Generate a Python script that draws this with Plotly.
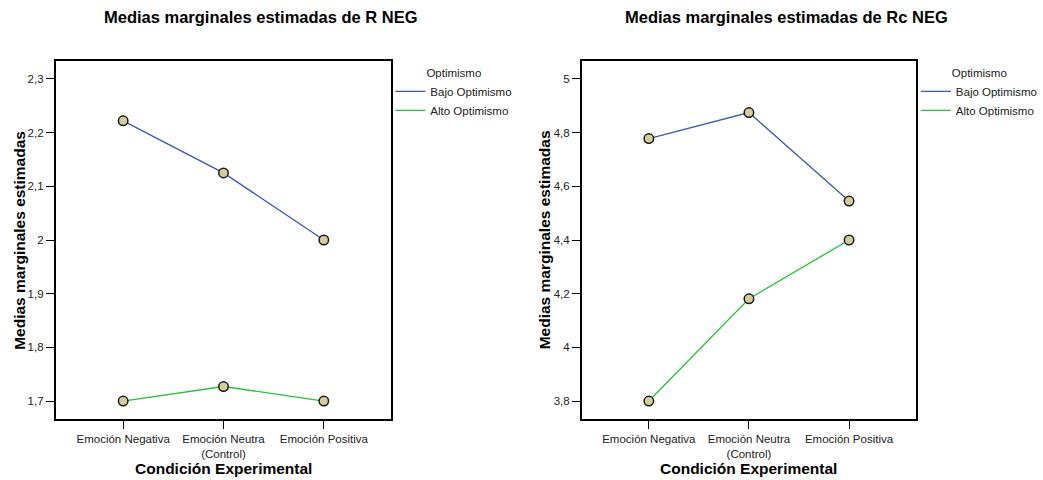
import plotly.graph_objects as go

W, H = 1043, 480

categories = ["Emoción Negativa", "Emoción Neutra<br>(Control)", "Emoción Positiva"]
series_names = ["Bajo Optimismo", "Alto Optimismo"]

r_neg_bajo = [2.222, 2.125, 2.000]
r_neg_alto = [1.700, 1.727, 1.700]

rc_neg_bajo = [4.778, 4.875, 4.545]
rc_neg_alto = [3.800, 4.181, 4.400]

left_ticks = [1.7, 1.8, 1.9, 2.0, 2.1, 2.2, 2.3]
left_ticktext = ["1,7", "1,8", "1,9", "2", "2,1", "2,2", "2,3"]
right_ticks = [3.8, 4.0, 4.2, 4.4, 4.6, 4.8, 5.0]
right_ticktext = ["3,8", "4", "4,2", "4,4", "4,6", "4,8", "5"]

titles = ["Medias marginales estimadas de R NEG", "Medias marginales estimadas de Rc NEG"]
y_title = "Medias marginales estimadas"
x_title = "Condición Experimental"
legend_title = "Optimismo"

colors = ["#3b58b4", "#27c238"]
marker_fill = "#d5cc9c"
FONT = "Liberation Sans, Arial, sans-serif"

def px(x):
    return x / W

def py(y):
    return 1 - y / H

fig = go.Figure()

panels = [
    dict(xa="x", ya="y", leg="legend", vals=[r_neg_bajo, r_neg_alto]),
    dict(xa="x2", ya="y2", leg="legend2", vals=[rc_neg_bajo, rc_neg_alto]),
]

for p in panels:
    for name, vals, col in zip(series_names, p["vals"], colors):
        fig.add_trace(go.Scatter(
            x=categories, y=vals, mode="lines", name=name,
            line=dict(color=col, width=1.3),
            xaxis=p["xa"], yaxis=p["ya"], legend=p["leg"],
        ))
    for name, vals, col in zip(series_names, p["vals"], colors):
        fig.add_trace(go.Scatter(
            x=categories, y=vals, mode="markers", name=name, showlegend=False,
            marker=dict(size=9.5, color=marker_fill, line=dict(color="#1a1a1a", width=1.5)),
            xaxis=p["xa"], yaxis=p["ya"],
        ))

axis_common = dict(
    showline=True, linecolor="black", linewidth=1.5, mirror=True,
    ticks="outside", ticklen=8, tickwidth=1.2, tickcolor="black",
    showgrid=False, zeroline=False,
    tickfont=dict(family=FONT, size=11.5, color="#222"),
)

ydom = [py(419), py(61)]
legend_common = dict(
    xanchor="left", yanchor="top",
    bgcolor="rgba(0,0,0,0)", font=dict(family=FONT, size=11.5, color="#222"),
    title=dict(text=legend_title, side="top center", font=dict(family=FONT, size=11.5, color="#222")),
    tracegroupgap=0, itemwidth=30,
)
fig.update_layout(
    width=W, height=H,
    margin=dict(l=0, r=0, t=0, b=0),
    paper_bgcolor="white", plot_bgcolor="white",
    font=dict(family=FONT, color="black"),
    xaxis=dict(domain=[px(56), px(394)], range=[-0.673, 2.673], type="category", **axis_common),
    yaxis=dict(domain=ydom, range=[1.6665, 2.3335], tickvals=left_ticks, ticktext=left_ticktext, **axis_common),
    xaxis2=dict(domain=[px(585.7), px(922.3)], range=[-0.67, 2.67], type="category", anchor="y2", **axis_common),
    yaxis2=dict(domain=ydom, range=[3.733, 5.067], tickvals=right_ticks, ticktext=right_ticktext, anchor="x2", **axis_common),
    legend=dict(x=px(393), y=py(62), **legend_common),
    legend2=dict(x=px(922), y=py(62), **legend_common),
)

annotations = []
for cx, t in zip([263, 792], titles):
    annotations.append(dict(text=f"<b>{t}</b>", x=px(cx), y=py(17), xref="paper", yref="paper",
                            showarrow=False, xanchor="center", yanchor="middle",
                            font=dict(family=FONT, size=16.5, color="black")))
for cx, cxt in zip([19, 548], [225, 754]):
    annotations.append(dict(text=f"<b>{y_title}</b>", x=px(cx), y=py(240), xref="paper", yref="paper",
                            showarrow=False, textangle=-90, xanchor="center", yanchor="middle",
                            font=dict(family=FONT, size=15.5, color="black")))
    annotations.append(dict(text=f"<b>{x_title}</b>", x=px(cxt), y=py(468), xref="paper", yref="paper",
                            showarrow=False, xanchor="center", yanchor="middle",
                            font=dict(family=FONT, size=15.5, color="black")))
fig.update_layout(annotations=annotations)

fig.write_html("out.html")
